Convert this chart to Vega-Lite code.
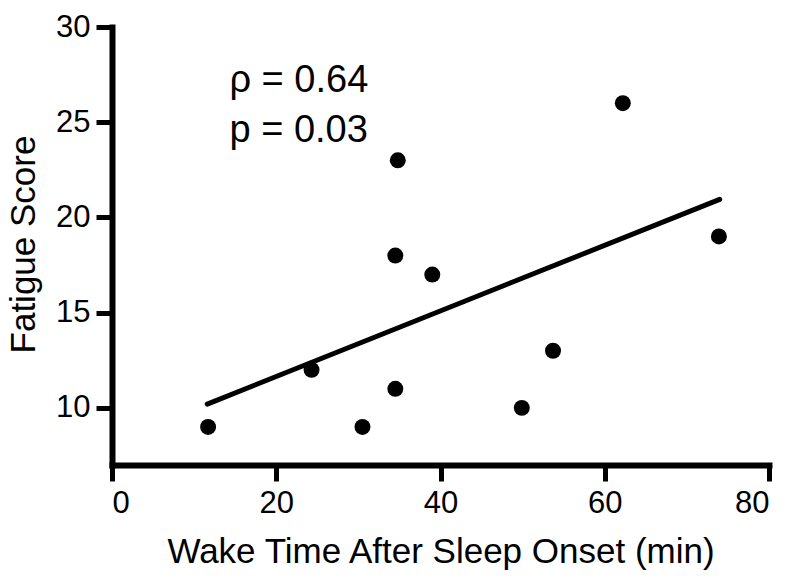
{
  "$schema": "https://vega.github.io/schema/vega-lite/v6.json",
  "autosize": "none",
  "padding": {"left": 112, "top": 27, "right": 31, "bottom": 114},
  "width": 657,
  "height": 438,
  "background": "white",
  "config": {
    "view": {"stroke": null},
    "font": "Liberation Sans",
    "axis": {
      "grid": false,
      "domainColor": "black",
      "domainWidth": 6,
      "domainCap": "square",
      "tickColor": "black",
      "tickWidth": 5,
      "tickSize": 16,
      "labelColor": "black",
      "labelFont": "Liberation Sans",
      "labelFontSize": 31,
      "titleFont": "Liberation Sans",
      "titleFontSize": 35,
      "titleFontWeight": "normal",
      "titleColor": "black"
    }
  },
  "datasets": {
    "points": [
      {"wake": 11.7, "fatigue": 9},
      {"wake": 24.3, "fatigue": 12},
      {"wake": 30.5, "fatigue": 9},
      {"wake": 34.5, "fatigue": 11},
      {"wake": 34.5, "fatigue": 18},
      {"wake": 34.8, "fatigue": 23},
      {"wake": 39.0, "fatigue": 17},
      {"wake": 49.9, "fatigue": 10},
      {"wake": 53.7, "fatigue": 13},
      {"wake": 62.2, "fatigue": 26},
      {"wake": 73.9, "fatigue": 19}
    ],
    "fit": [
      {"wake": 11.6, "fatigue": 10.2},
      {"wake": 74.0, "fatigue": 20.95}
    ],
    "notes": [
      {"wake": 14.3, "fatigue": 26.6, "label": "ρ = 0.64"},
      {"wake": 14.3, "fatigue": 23.95, "label": "p = 0.03"}
    ]
  },
  "layer": [
    {
      "data": {"name": "fit"},
      "mark": {"type": "line", "color": "black", "strokeWidth": 5, "strokeCap": "round"},
      "encoding": {
        "x": {
          "field": "wake", "type": "quantitative",
          "scale": {"domain": [0, 80], "nice": false, "zero": false},
          "axis": {
            "values": [0, 20, 40, 60, 80],
            "title": "Wake Time After Sleep Onset (min)",
            "labelPadding": 7,
            "titleBaseline": "alphabetic",
            "titleY": 97
          }
        },
        "y": {
          "field": "fatigue", "type": "quantitative",
          "scale": {"domain": [7, 30], "nice": false, "zero": false},
          "axis": {
            "values": [10, 15, 20, 25, 30],
            "title": "Fatigue Score",
            "labelPadding": 6,
            "titleX": -89,
            "titleY": 217,
            "titleBaseline": "middle"
          }
        }
      }
    },
    {
      "data": {"name": "points"},
      "mark": {"type": "circle", "color": "black", "opacity": 1, "size": 255},
      "encoding": {
        "x": {"field": "wake", "type": "quantitative"},
        "y": {"field": "fatigue", "type": "quantitative"}
      }
    },
    {
      "data": {"name": "notes"},
      "mark": {"type": "text", "align": "left", "baseline": "alphabetic", "fontSize": 38, "font": "Liberation Sans", "color": "black"},
      "encoding": {
        "x": {"field": "wake", "type": "quantitative"},
        "y": {"field": "fatigue", "type": "quantitative"},
        "text": {"field": "label"}
      }
    }
  ]
}
